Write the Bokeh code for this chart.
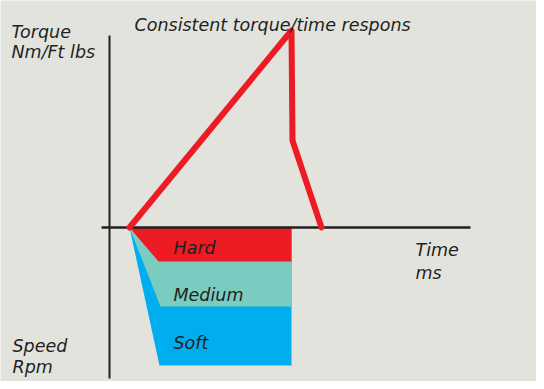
from bokeh.plotting import figure
from bokeh.models import Range1d
from bokeh.core.properties import value
from bokeh.embed import file_html
from bokeh.resources import INLINE

# --- data (schematic units: time in arbitrary ms, torque / speed arbitrary) ---
torque_time = [20, 182, 183, 212]
torque_vals = [0, 197, 87, 0]

band_names = ["Soft", "Medium", "Hard"]
band_colors = ["#00AEEF", "#7ACCC1", "#ED1C24"]
band_bottom = [-138, -79, -34]
band_left = [50, 51, 49]
band_start = 20
band_end = 182

band_label_x = 64
band_label_y = [-115, -67, -20]

title_text = "Consistent torque/time respons"
y_top_label = ["Torque", "Nm/Ft lbs"]
y_bottom_label = ["Speed", "Rpm"]
x_label = ["Time", "ms"]

BG = "#E3E3DE"
INK = "#231F20"
FONT = value("DejaVu Sans")

p = figure(width=536, height=381, output_backend="svg", toolbar_location=None,
           x_range=Range1d(-109, 427), y_range=Range1d(-154, 227),
           min_border=0, background_fill_color=BG, border_fill_color=BG)
p.axis.visible = False
p.grid.visible = False
p.outline_line_color = None

# speed bands
for name, col, bot, lx in zip(band_names, band_colors, band_bottom, band_left):
    p.patch([band_start, band_end, band_end, lx], [0, 0, bot, bot],
            fill_color=col, line_color=None)

# axis lines
p.line([0, 0], [192, -151], line_color=INK, line_width=2)
p.line([-8, 361], [0, 0], line_color=INK, line_width=2.5)

# torque curve
p.line(torque_time, torque_vals, line_color="#ED1C24", line_width=6,
       line_join="round", line_cap="round")

def label(x, y, t):
    p.text(x=[x], y=[y], text=[t], text_font=FONT, text_font_style="italic",
           text_font_size="17.5px", text_color=INK, text_align="left",
           text_baseline="alphabetic")

label(25, 203, title_text)
label(-98, 196, y_top_label[0])
label(-98, 176, y_top_label[1])
label(-97, -118, y_bottom_label[0])
label(-97, -139, y_bottom_label[1])
label(306, -22, x_label[0])
label(306, -45, x_label[1])
for n, yy in zip(band_names, band_label_y):
    label(band_label_x, yy, n)

open("out.html", "w").write(file_html(p, INLINE))
